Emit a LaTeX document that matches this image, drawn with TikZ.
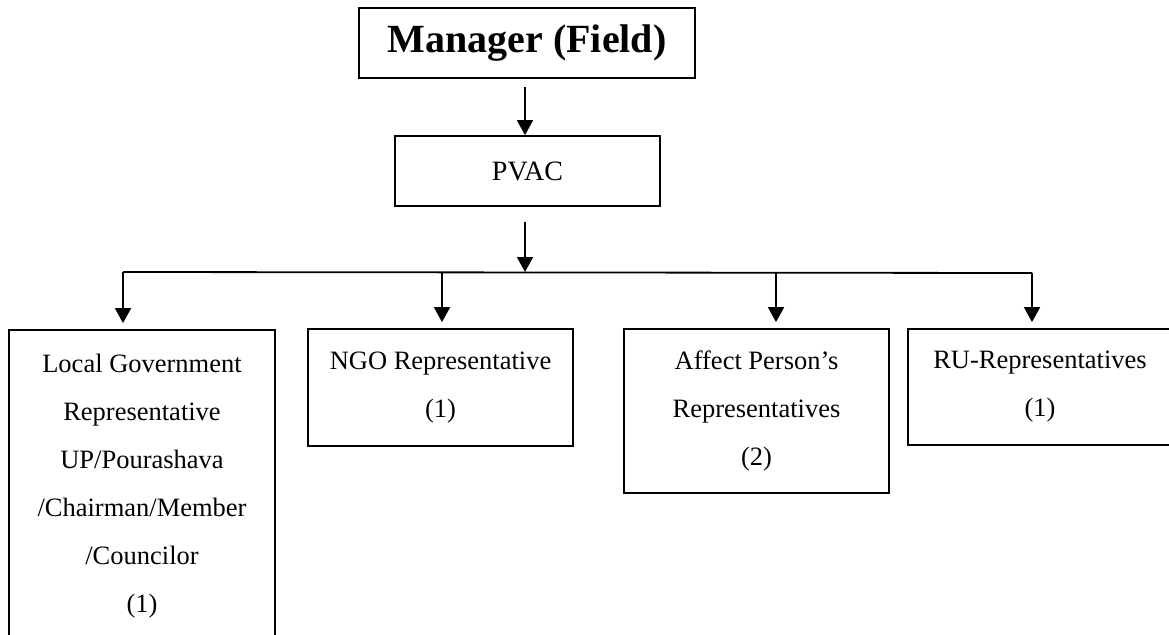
\documentclass[tikz,border=0pt]{standalone}
\usepackage{fontspec}
\setmainfont{Liberation Serif}
\usetikzlibrary{arrows.meta}

\begin{document}
\begin{tikzpicture}[x={(1pt,0pt)}, y={(0pt,-1pt)},
  box/.style={draw, line width=1.8pt, inner sep=0pt, align=center,
              font=\fontsize{26.5}{48}\selectfont},
  topbox/.style={draw, line width=1.8pt, inner sep=0pt,
              font=\fontsize{40}{48}\selectfont\bfseries},
  link/.style={line width=1.8pt},
  arr/.style={link, -{Triangle[width=16pt,length=15pt]}}]

  % page area
  \clip (0,0) rectangle (1169,634);

  % hierarchy boxes
  \node[topbox, minimum width=336pt, minimum height=70pt] (mgr) at (527,43) {Manager (Field)};
  \node[box, font=\fontsize{28}{48}\selectfont, minimum width=265pt, minimum height=70pt] (pvac) at (527.5,171) {PVAC};

  \node[box, minimum width=266pt, minimum height=312pt] (lg) at (142,486)
    {Local Government\\Representative\\UP/Pourashava\\/Chairman/Member\\/Councilor\\(1)};
  \node[box, minimum width=265pt, minimum height=117pt] (ngo) at (440.5,387.5)
    {NGO Representative\\(1)};
  \node[box, minimum width=265pt, minimum height=164pt] (ap) at (756.5,411)
    {Affect Person’s\\Representatives\\(2)};
  \node[box, minimum width=264pt, minimum height=116pt] (ru) at (1040,387)
    {RU-Representatives\\(1)};

  % distribution bar
  \coordinate (bus) at (525,272);
  \coordinate (d1) at (123,272);
  \coordinate (d2) at (442,272);
  \coordinate (d3) at (776,273);
  \coordinate (d4) at (1032,273);

  % connectors
  \draw[arr] ([xshift=-2pt,yshift=-8pt]mgr.south) -- ([xshift=-2.5pt]pvac.north);
  \draw[arr] ([xshift=-2.5pt,yshift=-15pt]pvac.south) -- (bus);
  \draw[link] (d1) -- (d4);
  \draw[arr] (d1) -- ([yshift=6pt]d1 |- lg.north);
  \draw[arr] (d2) -- ([yshift=6pt]d2 |- ngo.north);
  \draw[arr] (d3) -- ([yshift=6pt]d3 |- ap.north);
  \draw[arr] (d4) -- ([yshift=6pt]d4 |- ru.north);
\end{tikzpicture}
\end{document}
